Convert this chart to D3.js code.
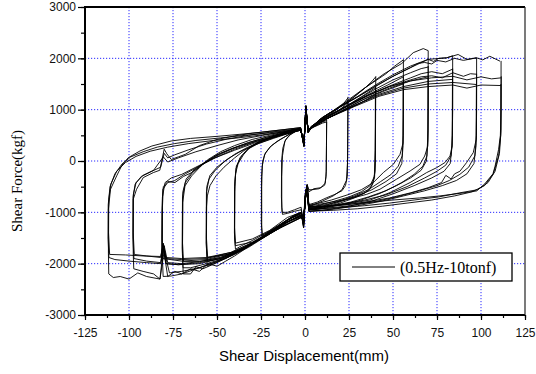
<!DOCTYPE html>
<html><head><meta charset="utf-8">
<script src="https://cdn.jsdelivr.net/npm/d3@7"></script>
<style>html,body{margin:0;padding:0;background:#fff}</style>
</head><body>
<svg id="c" width="536" height="374"></svg>
<script>
const xTicks = [-125,-100,-75,-50,-25,0,25,50,75,100,125];
const yTicks = [-3000,-2000,-1000,0,1000,2000,3000];
const legendLabel = "(0.5Hz-10tonf)";
const xTitle = "Shear Displacement(mm)";
const yTitle = "Shear Force(kgf)";

// hysteresis cycles, grouped by displacement amplitude; each cycle = [[disp(mm), force(kgf)], ...]
const amp12 = [
 [[12.3,800],[12.2,300],[12.0,-300],[11.2,-470],[8,-540],[4,-560],[2.2,-560],[1.2,-470],[0.3,-640],[-0.8,-1150],[-2.2,-950],[-6,-980],[-10,-1020],[-12.8,-1040],[-13.2,-900],[-13.2,-300],[-12.8,100],[-11.5,380],[-9,500],[-5,590],[-2.5,620],[-0.6,330],[0.5,1020],[1.8,560],[3.5,630],[7,700],[10,760],[12.3,790]],
 [[12.3,760],[12.1,-200],[11.5,-430],[9,-520],[5,-540],[2.2,-600],[1.2,-450],[0.3,-700],[-0.8,-1300],[-2.2,-900],[-6,-950],[-10,-1000],[-13,-1000],[-13.4,-700],[-13.3,0],[-12.6,250],[-11,420],[-8,520],[-4,600],[-2.5,600],[-0.6,360],[0.5,980],[1.8,600],[3.5,650],[7,690],[10,740],[12.4,760]]
];
const amp25 = [
 [[24.4,1250],[24.3,500],[24.1,-300],[23,-480],[21,-580],[17,-650],[12,-720],[7,-800],[2.2,-850],[1.2,-500],[0.3,-620],[-0.8,-1250],[-2.2,-1000],[-6,-1050],[-10,-1150],[-15,-1280],[-20,-1400],[-24.2,-1500],[-24.6,-1300],[-24.6,-500],[-24.3,-100],[-23,120],[-20,270],[-16,380],[-11,480],[-6,580],[-2.5,620],[-0.6,300],[0.5,1050],[1.8,560],[3.5,650],[8,780],[13,880],[18,1000],[22,1120],[24.4,1230]],
 [[24.4,1150],[24.2,0],[23.5,-380],[21,-560],[16,-680],[10,-780],[5,-850],[2.2,-900],[1.2,-520],[0.3,-700],[-0.8,-1150],[-2.2,-1050],[-7,-1100],[-12,-1200],[-18,-1330],[-24.3,-1450],[-24.8,-1200],[-24.7,-300],[-24,0],[-22.5,160],[-19,300],[-14,420],[-9,520],[-5,600],[-2.5,600],[-0.6,380],[0.5,1000],[1.8,600],[3.5,660],[8,760],[14,880],[19,980],[24.4,1130]]
];
const amp40 = [
 [[40.2,1650],[40.1,800],[39.8,-200],[38.5,-450],[36,-580],[33,-640],[28,-700],[20,-780],[12,-850],[6,-880],[2.2,-900],[1.2,-520],[0.3,-650],[-0.8,-1200],[-2.2,-1020],[-8,-1100],[-15,-1250],[-22,-1400],[-30,-1550],[-36,-1650],[-39.5,-1720],[-40,-1500],[-40,-600],[-39.5,-250],[-38,-50],[-35,120],[-31,280],[-26,380],[-20,460],[-14,530],[-8,600],[-2.5,640],[-0.6,280],[0.5,1060],[1.8,560],[3.5,650],[8,800],[15,950],[22,1100],[28,1250],[34,1420],[38,1550],[40.2,1640]],
 [[40.1,1450],[40,0],[39.5,-330],[37.5,-500],[34,-620],[28,-720],[20,-820],[12,-900],[5,-950],[2.2,-950],[1.2,-560],[0.3,-700],[-0.8,-1150],[-2.2,-1080],[-8,-1150],[-15,-1300],[-22,-1430],[-30,-1580],[-39.6,-1650],[-40.1,-1400],[-40,-500],[-39.2,-150],[-37,60],[-33,220],[-28,330],[-22,420],[-15,500],[-8,570],[-2.5,610],[-0.6,340],[0.5,1000],[1.8,580],[3.5,660],[9,800],[16,930],[24,1080],[32,1250],[40.1,1430]],
 [[40,1300],[39.9,200],[39.4,-300],[37,-480],[32,-600],[25,-700],[15,-800],[6,-880],[2.2,-880],[1.2,-480],[0.3,-600],[-0.8,-1100],[-2.2,-1000],[-10,-1100],[-20,-1350],[-30,-1520],[-39.5,-1600],[-40,-1300],[-39.8,-400],[-39,-100],[-36,100],[-32,240],[-26,350],[-18,450],[-10,540],[-2.5,600],[-0.6,360],[0.5,980],[1.8,560],[3.5,640],[10,780],[20,950],[30,1100],[40,1290]]
];
const amp56 = [
 [[55.9,1980],[55.9,900],[55.7,350],[54,130],[50.2,-65],[44.5,-226],[38.8,-420],[32,-560],[25,-650],[15,-760],[7,-830],[2.2,-860],[1.2,-480],[0.3,-620],[-0.8,-1250],[-2.2,-1000],[-8,-1100],[-16,-1300],[-25,-1500],[-35,-1700],[-45,-1900],[-52,-2000],[-55.6,-2050],[-56,-1700],[-56,-900],[-55.5,-680],[-54,-480],[-50.6,-290],[-46,-120],[-40,60],[-34,220],[-27,350],[-20,450],[-12,540],[-6,600],[-2.5,640],[-0.6,300],[0.5,1080],[1.8,560],[3.5,650],[9,820],[16,980],[25,1200],[33,1400],[40,1560],[46,1700],[51,1850],[55.9,1970]],
 [[55.9,1650],[55.8,500],[55.2,100],[53,-100],[49,-260],[43,-400],[36,-560],[28,-680],[18,-800],[8,-900],[2.2,-920],[1.2,-540],[0.3,-700],[-0.8,-1200],[-2.2,-1050],[-10,-1180],[-18,-1370],[-28,-1580],[-38,-1760],[-48,-1900],[-55.4,-1950],[-56.2,-1600],[-56,-600],[-54.5,-350],[-51,-180],[-46,-20],[-40,130],[-33,260],[-25,380],[-17,470],[-9,560],[-2.5,620],[-0.6,350],[0.5,1000],[1.8,600],[3.5,660],[10,820],[18,960],[28,1150],[38,1330],[47,1480],[55.9,1640]],
 [[55.8,1500],[55.7,300],[55,-50],[52,-250],[46,-400],[38,-560],[28,-700],[16,-840],[7,-920],[2.2,-950],[1.2,-580],[0.3,-720],[-0.8,-1100],[-2.2,-1080],[-12,-1220],[-22,-1450],[-32,-1650],[-44,-1820],[-55.3,-1880],[-56,-1500],[-55.8,-500],[-54,-280],[-50,-120],[-44,40],[-37,180],[-28,320],[-18,440],[-9,540],[-2.5,600],[-0.6,380],[0.5,960],[1.8,580],[3.5,640],[12,820],[22,1000],[32,1180],[44,1350],[55.8,1500]]
];
const amp70 = [
 [[70,2150],[70,1000],[69.8,292],[68,97],[65.3,-65],[59.7,-195],[52,-355],[42.6,-550],[35,-650],[25,-740],[15,-800],[7,-850],[2.2,-870],[1.2,-480],[0.3,-640],[-0.8,-1280],[-2.2,-1000],[-10,-1150],[-20,-1380],[-30,-1600],[-40,-1800],[-50,-1980],[-54,-2040],[-58,-2100],[-62,-2060],[-65,-2200],[-69.2,-2200],[-69.6,-1800],[-69.5,-810],[-68.2,-486],[-64.4,-290],[-60,-130],[-55,30],[-48,180],[-40,300],[-30,420],[-20,500],[-10,580],[-2.5,640],[-0.6,280],[0.5,1080],[1.8,560],[3.5,660],[10,850],[18,1020],[26,1200],[35,1450],[45,1700],[55,1900],[61.5,2110],[67.2,2190],[70,2150]],
 [[70,1850],[69.9,600],[69.3,100],[67,-100],[62,-260],[55,-420],[46,-580],[36,-700],[26,-800],[15,-870],[6,-920],[2.2,-920],[1.2,-500],[0.3,-680],[-0.8,-1200],[-2.2,-1060],[-10,-1200],[-20,-1420],[-32,-1680],[-44,-1880],[-56,-2000],[-65,-2080],[-69.3,-2080],[-69.8,-1700],[-69.6,-700],[-68,-420],[-64,-230],[-58,-60],[-50,120],[-42,240],[-32,360],[-22,460],[-12,550],[-2.5,620],[-0.6,320],[0.5,1020],[1.8,600],[3.5,670],[10,830],[20,1000],[30,1200],[40,1400],[50,1580],[60,1720],[66,1800],[70,1830]],
 [[70,1650],[69.8,400],[69,0],[66,-180],[60,-330],[52,-480],[42,-640],[30,-780],[18,-870],[8,-940],[2.2,-950],[1.2,-560],[0.3,-720],[-0.8,-1120],[-2.2,-1100],[-12,-1260],[-24,-1500],[-36,-1720],[-48,-1880],[-60,-1960],[-69,-1960],[-69.6,-1600],[-69.4,-600],[-67.5,-350],[-63,-170],[-56,0],[-48,150],[-38,280],[-26,400],[-14,510],[-2.5,600],[-0.6,360],[0.5,970],[1.8,590],[3.5,650],[12,820],[24,1030],[36,1250],[48,1420],[60,1560],[70,1640]]
];
const amp84 = [
 [[83.9,2050],[83.9,1000],[83.6,292],[82.4,97],[79.5,-31],[74.8,-130],[69.1,-226],[59.7,-420],[48.3,-615],[37,-760],[25,-830],[15,-870],[7,-890],[2.2,-900],[1.2,-500],[0.3,-620],[-0.8,-1200],[-2.2,-1020],[-10,-1150],[-20,-1380],[-30,-1600],[-40,-1800],[-50,-1950],[-60,-2080],[-70,-2200],[-76,-2240],[-80.6,-2250],[-81,-1900],[-81,-900],[-80.5,-500],[-78,-400],[-73.9,-420],[-69,-300],[-64.4,-226],[-58,-60],[-50,100],[-42,230],[-32,360],[-22,460],[-12,550],[-5,610],[-2.5,640],[-0.6,300],[0.5,1060],[1.8,560],[3.5,660],[10,840],[20,1050],[30,1250],[40,1450],[50,1650],[60,1820],[65,1900],[70,1980],[73,1940],[76,2000],[80.5,2010],[83.9,2050]],
 [[83.9,1800],[83.8,500],[83,100],[80,-80],[75,-200],[68,-330],[58,-500],[46,-660],[34,-760],[22,-840],[10,-900],[2.2,-930],[1.2,-520],[0.3,-680],[-0.8,-1180],[-2.2,-1060],[-12,-1220],[-24,-1480],[-36,-1720],[-48,-1880],[-60,-1960],[-70,-2000],[-78,-1980],[-80,-1650],[-81.5,-1950],[-81.3,-1000],[-80.8,-550],[-78,-420],[-74,-380],[-68,-250],[-60,-100],[-50,80],[-40,230],[-28,380],[-16,490],[-6,580],[-2.5,610],[-0.6,340],[0.5,1010],[1.8,590],[3.5,670],[12,840],[24,1060],[36,1280],[48,1460],[60,1620],[66,1700],[72,1740],[78,1700],[83.9,1790]],
 [[83.8,1600],[83.6,300],[82.5,-50],[79,-200],[72,-330],[62,-480],[50,-640],[38,-780],[25,-880],[12,-950],[2.2,-980],[1.2,-580],[0.3,-720],[-0.8,-1150],[-2.2,-1100],[-14,-1300],[-28,-1580],[-42,-1800],[-56,-1920],[-70,-1950],[-80.8,-1900],[-81.2,-1500],[-81,-700],[-79.5,-420],[-76,-330],[-70,-260],[-62,-120],[-52,50],[-40,210],[-28,360],[-16,480],[-6,570],[-2.5,600],[-0.6,370],[0.5,960],[1.8,580],[3.5,650],[14,850],[28,1080],[42,1300],[56,1450],[70,1550],[83.8,1590]]
];
const amp98 = [
 [[97.5,2010],[97.5,1000],[97.3,422],[95.6,163],[91.8,-31],[88,-200],[85,-250],[83,-350],[80,-280],[77.6,-420],[70,-520],[60,-620],[48,-720],[36,-790],[24,-850],[12,-890],[5,-900],[2.2,-900],[1.2,-480],[0.3,-620],[-0.8,-1300],[-2.2,-1020],[-10,-1150],[-20,-1380],[-30,-1620],[-40,-1820],[-50,-1960],[-60,-2080],[-70,-2150],[-77,-2180],[-80,-1750],[-82.4,-2300],[-86,-2200],[-92,-2150],[-97.3,-2100],[-97.6,-1800],[-97.6,-745],[-95.7,-550],[-91.9,-323],[-86.2,-226],[-82.5,-180],[-80,230],[-78.5,140],[-76,30],[-72,80],[-68,130],[-60,300],[-50,420],[-40,490],[-30,540],[-20,580],[-10,620],[-2.5,650],[-0.6,290],[0.5,1070],[1.8,560],[3.5,660],[10,850],[20,1060],[30,1260],[40,1480],[50,1680],[60,1850],[70,1980],[80.5,2010],[87,2075],[92,1980],[97.5,2010]],
 [[97.5,1700],[97.4,500],[96.5,100],[93,-120],[88,-260],[82,-380],[75,-480],[65,-580],[52,-700],[40,-790],[26,-870],[12,-920],[2.2,-940],[1.2,-530],[0.3,-700],[-0.8,-1200],[-2.2,-1060],[-12,-1220],[-24,-1480],[-36,-1740],[-48,-1900],[-60,-2000],[-72,-2020],[-79,-2000],[-80.5,-1680],[-82,-1980],[-90,-1950],[-97.2,-1900],[-97.8,-1500],[-97.7,-700],[-96.5,-450],[-93,-300],[-87,-200],[-82,-120],[-80,150],[-78,60],[-74,120],[-66,220],[-56,330],[-44,430],[-32,500],[-20,560],[-8,610],[-2.5,630],[-0.6,340],[0.5,1010],[1.8,590],[3.5,670],[12,850],[24,1070],[36,1280],[48,1450],[60,1580],[66,1640],[72,1660],[78,1620],[84,1720],[90,1650],[94,1700],[97.5,1690]],
 [[97.4,1500],[97.2,300],[96,-50],[92,-250],[86,-380],[78,-480],[68,-580],[56,-680],[44,-780],[30,-870],[16,-940],[2.2,-980],[1.2,-580],[0.3,-720],[-0.8,-1150],[-2.2,-1100],[-14,-1300],[-28,-1560],[-42,-1780],[-56,-1900],[-70,-1920],[-79,-1900],[-80.5,-1620],[-82,-1880],[-90,-1850],[-97,-1820],[-97.6,-1400],[-97.5,-650],[-96,-420],[-92,-280],[-86,-180],[-80.5,80],[-78,-20],[-72,60],[-62,180],[-50,300],[-38,410],[-24,500],[-10,580],[-2.5,610],[-0.6,370],[0.5,960],[1.8,580],[3.5,650],[14,850],[28,1080],[42,1280],[56,1420],[70,1500],[84,1530],[97.4,1490]]
];
const amp112 = [
 [[111.4,1950],[111.4,1000],[111,500],[110,227],[108,-100],[106.8,-250],[102,-450],[97.5,-583],[88,-630],[76.7,-680],[65,-720],[50,-760],[35,-810],[20,-860],[10,-880],[2.2,-900],[1.2,-480],[0.3,-620],[-0.8,-1250],[-2.2,-1020],[-10,-1150],[-20,-1380],[-30,-1620],[-40,-1850],[-45,-1950],[-50,-2050],[-55,-2000],[-60,-2150],[-65,-2100],[-70,-2200],[-74,-2150],[-78,-2250],[-80.5,-1700],[-82.4,-2300],[-90,-2250],[-95,-2180],[-100,-2300],[-105,-2250],[-108.9,-2270],[-111.5,-2200],[-111.7,-1800],[-111.7,-940],[-110.5,-550],[-107,-290],[-104,-80],[-100.4,65],[-93.8,195],[-87,292],[-76,390],[-65,440],[-50,480],[-37,520],[-25,560],[-12,610],[-2.5,650],[-0.6,300],[0.5,1060],[1.8,560],[3.5,660],[10,850],[20,1060],[30,1250],[40,1460],[50,1650],[60,1820],[64,1900],[68,1920],[72,1890],[75,1960],[80,1930],[85,2000],[90,1960],[97.5,2010],[101,1970],[105,2040],[110.8,1945]],
 [[111.5,1650],[111.4,600],[110.5,150],[108,-200],[104,-420],[98,-560],[88,-620],[76,-700],[62,-760],[48,-820],[34,-870],[20,-910],[8,-930],[2.2,-940],[1.2,-530],[0.3,-680],[-0.8,-1200],[-2.2,-1060],[-12,-1220],[-24,-1480],[-36,-1740],[-48,-1900],[-60,-1980],[-72,-2020],[-79,-2000],[-80.5,-1650],[-82,-2000],[-90,-1980],[-100,-1950],[-108,-1920],[-111.4,-1880],[-111.9,-1500],[-111.8,-850],[-110.8,-500],[-108,-250],[-104,-60],[-99,80],[-92,180],[-84,270],[-74,340],[-62,400],[-48,450],[-34,500],[-20,550],[-8,600],[-2.5,620],[-0.6,340],[0.5,1010],[1.8,590],[3.5,670],[12,850],[24,1080],[36,1280],[48,1450],[60,1560],[72,1620],[84,1650],[92,1580],[100,1640],[106,1600],[111.5,1620]],
 [[111.3,1500],[111.2,500],[110,100],[107,-250],[102,-480],[95,-600],[85,-680],[72,-760],[58,-820],[44,-880],[30,-930],[16,-960],[2.2,-980],[1.2,-560],[0.3,-720],[-0.8,-1150],[-2.2,-1100],[-14,-1300],[-28,-1560],[-42,-1780],[-56,-1880],[-70,-1900],[-79,-1880],[-80.5,-1600],[-82,-1860],[-92,-1850],[-102,-1830],[-111,-1820],[-111.6,-1400],[-111.5,-750],[-110.3,-450],[-107,-200],[-102,-30],[-96,90],[-88,190],[-78,270],[-66,340],[-52,400],[-38,450],[-24,510],[-10,580],[-2.5,600],[-0.6,360],[0.5,960],[1.8,580],[3.5,650],[14,850],[28,1060],[42,1260],[56,1390],[70,1450],[84,1480],[92,1420],[100,1480],[111.3,1470]]
];
const cycleGroups = [amp12, amp25, amp40, amp56, amp70, amp84, amp98, amp112];

const svg = d3.select("#c");
const L = 85, R = 525, T = 7, B = 315;
const x = d3.scaleLinear().domain([-125,125]).range([L,R]);
const y = d3.scaleLinear().domain([-3000,3000]).range([B,T]);

// grid
const g = svg.append("g");
g.selectAll("line.gx").data(xTicks.slice(1,-1)).enter().append("line")
  .attr("x1",d=>x(d)).attr("x2",d=>x(d)).attr("y1",T).attr("y2",B)
  .attr("stroke","#2a2aff").attr("stroke-width",1).attr("stroke-dasharray","1.2,1.8");
g.selectAll("line.gy").data(yTicks.slice(1,-1)).enter().append("line")
  .attr("y1",d=>y(d)).attr("y2",d=>y(d)).attr("x1",L).attr("x2",R)
  .attr("stroke","#2a2aff").attr("stroke-width",1).attr("stroke-dasharray","1.2,1.8");

// data
const line = d3.line().x(d=>x(d[0])).y(d=>y(d[1])).curve(d3.curveLinear);
const allCycles = cycleGroups.flat();
svg.append("g").selectAll("path").data(allCycles).enter().append("path")
  .attr("d",line).attr("fill","none").attr("stroke","#000").attr("stroke-width",0.9)
  .attr("stroke-linejoin","round");

// axes
const minorX = d3.range(-125,126,12.5);
const minorY = d3.range(-3000,3001,500);
const xa = svg.append("g").attr("transform",`translate(0,${B})`);
xa.call(d3.axisBottom(x).tickValues(minorX).tickSize(3).tickFormat(""));
xa.append("g").call(d3.axisBottom(x).tickValues(xTicks).tickSize(5).tickPadding(8).tickFormat(d=>String(d)));
const ya = svg.append("g").attr("transform",`translate(${L},0)`);
ya.call(d3.axisLeft(y).tickValues(minorY).tickSize(4).tickFormat(""));
ya.append("g").call(d3.axisLeft(y).tickValues(yTicks).tickSize(7).tickPadding(2).tickFormat(d=>String(d)));
svg.selectAll(".domain").remove();
svg.selectAll(".tick line").attr("stroke","#000").attr("stroke-width",1.2);
svg.selectAll(".tick text").attr("font-family","'Liberation Sans', Arial, sans-serif").attr("font-size",12).attr("fill","#111");

// frame
svg.append("line").attr("x1",L).attr("x2",L).attr("y1",T-1).attr("y2",B+1).attr("stroke","#000").attr("stroke-width",2);
svg.append("line").attr("x1",L).attr("x2",R).attr("y1",B).attr("y2",B).attr("stroke","#000").attr("stroke-width",2);
svg.append("line").attr("x1",L).attr("x2",R).attr("y1",T).attr("y2",T).attr("stroke","#000").attr("stroke-width",2);
svg.append("line").attr("x1",R).attr("x2",R).attr("y1",T).attr("y2",B).attr("stroke","#222").attr("stroke-width",1.2);

// titles
svg.append("text").attr("x",304).attr("y",361).attr("text-anchor","middle")
  .attr("font-family","'Liberation Sans', Arial, sans-serif").attr("font-size",15).text(xTitle);
svg.append("text").attr("transform","translate(22,181) rotate(-90)").attr("text-anchor","middle")
  .attr("font-family","'Liberation Serif', 'Times New Roman', serif").attr("font-size",15).text(yTitle);

// legend
const lg = svg.append("g");
lg.append("rect").attr("x",340).attr("y",253).attr("width",172).attr("height",28)
  .attr("fill","#fff").attr("stroke","#000").attr("stroke-width",1.3);
lg.append("line").attr("x1",352).attr("x2",395).attr("y1",267).attr("y2",267).attr("stroke","#000").attr("stroke-width",1);
lg.append("text").attr("x",400).attr("y",273).attr("font-family","'Liberation Serif', 'Times New Roman', serif")
  .attr("font-size",16).text(legendLabel);
</script>
</body></html>
